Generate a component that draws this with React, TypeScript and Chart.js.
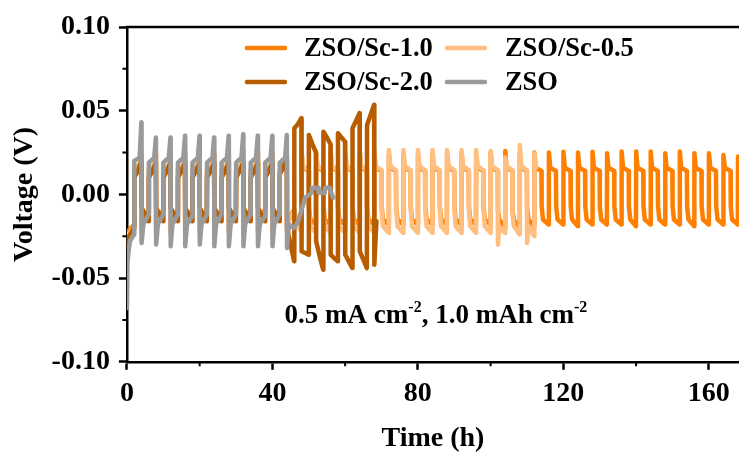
import React, { useEffect, useRef } from "react";
import { Chart, registerables } from "chart.js";

Chart.register(...registerables);

const FONT = "'Liberation Serif', 'Times New Roman', Times, serif";

// ---- axes ----
const xTicks = [0, 40, 80, 120, 160];
const xMinorTicks = [20, 60, 100, 140];
const yTicks = [-0.1, -0.05, 0, 0.05, 0.1];
const yMinorTicks = [-0.075, -0.025, 0.025, 0.075];
const xMin = 0;
const xMax = 168.3;
const yMin = -0.1;
const yMax = 0.1;
const xTitle = "Time (h)";
const yTitle = "Voltage (V)";
const halfCycle = 2; // h (0.5 mA cm-2, 1.0 mAh cm-2)

// ---- series names / colours ----
const seriesNames = ["ZSO", "ZSO/Sc-2.0", "ZSO/Sc-0.5", "ZSO/Sc-1.0"];
const seriesColors = ["#9a9a9a", "#b85c00", "#ffbf80", "#ff8000"];
const legendRows = [
  ["ZSO/Sc-1.0", "ZSO/Sc-0.5"],
  ["ZSO/Sc-2.0", "ZSO"],
];
const annotationParts = [
  { t: "0.5 mA cm", sup: false },
  { t: "-2", sup: true },
  { t: ", 1.0 mAh cm", sup: false },
  { t: "-2", sup: true },
];

// Each cycle: charge start / mid / end, discharge start / mid / end (V)

// ---- ZSO (grey) ----
const zsoStartT = [0, 0.15, 0.8, 1.97];
const zsoStartV = [-0.068, -0.04, -0.028, -0.024];
const zsoCycleT = [2, 6, 10, 14, 18, 22, 26, 30, 34, 38, 42];
const zsoChargeStart = [0.02, 0.019, 0.019, 0.019, 0.019, 0.019, 0.019, 0.019, 0.019, 0.019, 0.019];
const zsoChargeMid = 0.022;
const zsoChargeEnd = [0.043, 0.034, 0.034, 0.035, 0.035, 0.034, 0.035, 0.036, 0.035, 0.035, 0.0355];
const zsoDischargeStart = [-0.029, -0.03, -0.031, -0.031, -0.03, -0.031, -0.031, -0.031, -0.031, -0.031, -0.032];
const zsoDischargeMid = -0.018;
const zsoDischargeEnd = [-0.012, -0.012, -0.012, -0.013, -0.012, -0.012, -0.012, -0.012, -0.013, -0.012, -0.02];
const zsoMidT = [1.5, 0.5];
const zsoTailT = [47.1, 49.0, 50.8, 50.9, 52.6, 52.7, 54.4, 54.5, 55.8, 56.0, 56.7];
const zsoTailV = [-0.016, -0.002, 0.001, 0.004, 0.004, 0.001, 0.001, 0.004, 0.004, 0.002, -0.002];

// ---- ZSO/Sc-2.0 (dark orange) ----
const sc20StartT = [0, 0.3, 1.97];
const sc20StartV = [-0.035, -0.026, -0.02];
const sc20CycleT = [2, 6, 10, 14, 18, 22, 26, 30, 34, 38, 42, 46, 50, 54, 58, 62];
const sc20ChargeStart = [0.01, 0.01, 0.01, 0.01, 0.01, 0.01, 0.01, 0.01, 0.01, 0.01, 0.012, 0.0395, 0.0355, 0.0375, 0.0365, 0.0395];
const sc20ChargeMid = [0.014, 0.014, 0.014, 0.014, 0.014, 0.014, 0.014, 0.014, 0.014, 0.014, 0.016, 0.042, 0.03, 0.034, 0.034, 0.044];
const sc20ChargeEnd = [0.02, 0.019, 0.019, 0.019, 0.019, 0.019, 0.019, 0.019, 0.019, 0.019, 0.022, 0.0455, 0.025, 0.03, 0.0315, 0.0485];
const sc20DischargeStart = [-0.008, -0.008, -0.008, -0.008, -0.008, -0.008, -0.008, -0.008, -0.008, -0.008, -0.02, -0.034, -0.028, -0.036, -0.036, -0.034];
const sc20DischargeMid = [-0.012, -0.012, -0.012, -0.012, -0.012, -0.012, -0.012, -0.012, -0.012, -0.012, -0.03, -0.035, -0.037, -0.038, -0.04, -0.039];
const sc20DischargeEnd = [-0.016, -0.016, -0.016, -0.016, -0.016, -0.016, -0.016, -0.016, -0.016, -0.016, -0.04, -0.036, -0.045, -0.04, -0.044, -0.044];
const sc20MidT = [1.0, 1.0];
const sc20TailT = [66.03, 67.97, 68.03, 68.6];
const sc20TailV = [0.0415, 0.0535, -0.042, -0.016];

// ---- ZSO/Sc-0.5 (light orange) ----
const sc05StartT = [0, 0.3, 1.97];
const sc05StartV = [-0.032, -0.024, -0.02];
// early cycles (mostly hidden under ZSO)
const sc05EarlyCycleT = [2, 6, 10, 14, 18, 22, 26, 30, 34, 38, 42];
const sc05EarlyLevels = [0.015, 0.018, 0.026, -0.024, -0.016, -0.01];
const sc05EarlyMidT = [1.5, 0.5];
const sc05GapT = [46.5, 47.97];
const sc05GapV = [-0.018, -0.022];
// later cycles
const sc05CycleT = [48, 52, 56, 60, 64, 68, 72, 76, 80, 84, 88, 92, 96, 100, 104, 108];
const sc05ChargeStart = [0.026, 0.026, 0.026, 0.026, 0.026, 0.0265, 0.0265, 0.0265, 0.0265, 0.0265, 0.0265, 0.0265, 0.0265, 0.026, 0.022, 0.0295];
const sc05ChargeMid = 0.017;
const sc05ChargeEnd = 0.0145;
const sc05DischargeStart = [-0.009, -0.009, -0.009, -0.009, -0.009, -0.009, -0.009, -0.009, -0.009, -0.009, -0.009, -0.009, -0.009, -0.03, -0.012, -0.029];
const sc05DischargeMid = -0.019;
const sc05DischargeEnd = [-0.023, -0.023, -0.023, -0.023, -0.023, -0.023, -0.023, -0.023, -0.023, -0.023, -0.023, -0.023, -0.023, -0.023, -0.024, -0.025];
const sc05MidT = [0.4, 0.4];
const sc05TailT = [112.03, 112.5];
const sc05TailV = [0.0246, 0.016];

// ---- ZSO/Sc-1.0 (orange) ----
const sc10StartT = [0, 0.3, 1.97];
const sc10StartV = [-0.03, -0.022, -0.018];
const sc10EarlyCycleT = [2, 6, 10, 14, 18, 22, 26, 30, 34, 38, 42];
const sc10EarlyLevels = [0.014, 0.017, 0.024, -0.022, -0.015, -0.009];
const sc10EarlyMidT = [1.5, 0.5];
const sc10GapT = [46.5, 47.97];
const sc10GapV = [-0.016, -0.018];
const sc10CycleT = [48, 52, 56, 60, 64, 68, 72, 76, 80, 84, 88, 92, 96, 100, 104, 108, 112, 116, 120, 124, 128, 132, 136, 140, 144, 148, 152, 156, 160, 164, 168];
const sc10ChargeStart = [0.024, 0.024, 0.024, 0.024, 0.024, 0.024, 0.024, 0.024, 0.024, 0.024, 0.024, 0.024, 0.024, 0.025, 0.026, 0.025, 0.025, 0.025, 0.0255, 0.025, 0.0255, 0.0246, 0.0256, 0.0256, 0.0256, 0.0246, 0.0256, 0.0246, 0.0246, 0.0236, 0.0226];
const sc10ChargeMid = 0.016;
const sc10ChargeEnd = 0.014;
const sc10DischargeStart = [-0.007, -0.007, -0.007, -0.007, -0.007, -0.007, -0.007, -0.007, -0.007, -0.007, -0.007, -0.007, -0.007, -0.01, -0.01, -0.008, -0.007, -0.007, -0.007, -0.007, -0.007, -0.007, -0.007, -0.007, -0.007, -0.007, -0.007, -0.007, -0.007, -0.007, -0.007];
const sc10DischargeMid = -0.015;
const sc10DischargeEnd = [-0.018, -0.018, -0.018, -0.018, -0.018, -0.018, -0.018, -0.018, -0.018, -0.018, -0.018, -0.018, -0.018, -0.02, -0.022, -0.019, -0.018, -0.018, -0.019, -0.018, -0.018, -0.018, -0.019, -0.018, -0.018, -0.018, -0.019, -0.018, -0.018, -0.018, -0.018];
const sc10MidT = [0.4, 0.4];

type Pt = { x: number; y: number };
type Val = number | number[];
const pick = (v: Val, i: number) => (Array.isArray(v) ? v[i] : v);

function pointsOf(t: number[], v: number[]): Pt[] {
  return t.map((x, i) => ({ x, y: v[i] }));
}

function cyclePoints(
  cycleT: number[], cs: Val, cm: Val, ce: Val, ds: Val, dm: Val, de: Val, midT: number[]
): Pt[] {
  const pts: Pt[] = [];
  const e = 0.03;
  cycleT.forEach((t0, i) => {
    pts.push({ x: t0 + e, y: pick(cs, i) });
    pts.push({ x: t0 + midT[0], y: pick(cm, i) });
    pts.push({ x: t0 + halfCycle - e, y: pick(ce, i) });
    pts.push({ x: t0 + halfCycle + e, y: pick(ds, i) });
    pts.push({ x: t0 + halfCycle + midT[1], y: pick(dm, i) });
    pts.push({ x: t0 + 2 * halfCycle - e, y: pick(de, i) });
  });
  return pts;
}

const levelCycles = (cycleT: number[], lv: number[], midT: number[]) =>
  cyclePoints(cycleT, lv[0], lv[1], lv[2], lv[3], lv[4], lv[5], midT);

const fontOf = (size: number) => ({ family: FONT, size, weight: "bold" as const });

const decorPlugin = {
  id: "decor",
  afterDraw(chart: any) {
    const { ctx, chartArea: a, scales } = chart;
    const xs = scales.x;
    const ys = scales.y;
    ctx.save();
    ctx.strokeStyle = "#000";
    // top frame line
    ctx.lineWidth = 2.5;
    ctx.beginPath();
    ctx.moveTo(a.left - 1.25, a.top);
    ctx.lineTo(a.right + 2, a.top);
    ctx.stroke();
    // minor ticks
    ctx.lineWidth = 2;
    ctx.beginPath();
    xMinorTicks.forEach((v) => {
      const px = xs.getPixelForValue(v);
      ctx.moveTo(px, a.bottom);
      ctx.lineTo(px, a.bottom + 4.5);
    });
    yMinorTicks.forEach((v) => {
      const py = ys.getPixelForValue(v);
      ctx.moveTo(a.left, py);
      ctx.lineTo(a.left - 4.5, py);
    });
    ctx.stroke();

    // legend
    ctx.font = `bold 26.5px ${FONT}`;
    ctx.textBaseline = "middle";
    ctx.textAlign = "left";
    const rowY = [a.top + 21, a.top + 55];
    const colLine = [a.left + 120, a.left + 320];
    const colText = [a.left + 177, a.left + 378];
    legendRows.forEach((row, r) => {
      row.forEach((name, c) => {
        const idx = seriesNames.indexOf(name);
        ctx.strokeStyle = seriesColors[idx];
        ctx.lineWidth = 4.5;
        ctx.lineCap = "round";
        ctx.beginPath();
        ctx.moveTo(colLine[c], rowY[r]);
        ctx.lineTo(colLine[c] + 38, rowY[r]);
        ctx.stroke();
        ctx.fillStyle = "#000";
        ctx.fillText(name, colText[c], rowY[r] + 1);
      });
    });

    // annotation
    const mainFont = `bold 27px ${FONT}`;
    const supFont = `bold 16px ${FONT}`;
    let total = 0;
    annotationParts.forEach((p) => {
      ctx.font = p.sup ? supFont : mainFont;
      total += ctx.measureText(p.t).width;
    });
    let x = a.left + 309 - total / 2;
    const base = a.top + 296;
    ctx.textBaseline = "alphabetic";
    ctx.fillStyle = "#000";
    annotationParts.forEach((p) => {
      ctx.font = p.sup ? supFont : mainFont;
      ctx.fillText(p.t, x, p.sup ? base - 11 : base);
      x += ctx.measureText(p.t).width;
    });
    ctx.restore();
  },
};

export default function App() {
  const ref = useRef<HTMLCanvasElement>(null);
  useEffect(() => {
    const canvas = ref.current;
    if (!canvas) return;
    const profiles: Pt[][] = [
      [
        ...pointsOf(zsoStartT, zsoStartV),
        ...cyclePoints(zsoCycleT, zsoChargeStart, zsoChargeMid, zsoChargeEnd, zsoDischargeStart, zsoDischargeMid, zsoDischargeEnd, zsoMidT),
        ...pointsOf(zsoTailT, zsoTailV),
      ],
      [
        ...pointsOf(sc20StartT, sc20StartV),
        ...cyclePoints(sc20CycleT, sc20ChargeStart, sc20ChargeMid, sc20ChargeEnd, sc20DischargeStart, sc20DischargeMid, sc20DischargeEnd, sc20MidT),
        ...pointsOf(sc20TailT, sc20TailV),
      ],
      [
        ...pointsOf(sc05StartT, sc05StartV),
        ...levelCycles(sc05EarlyCycleT, sc05EarlyLevels, sc05EarlyMidT),
        ...pointsOf(sc05GapT, sc05GapV),
        ...cyclePoints(sc05CycleT, sc05ChargeStart, sc05ChargeMid, sc05ChargeEnd, sc05DischargeStart, sc05DischargeMid, sc05DischargeEnd, sc05MidT),
        ...pointsOf(sc05TailT, sc05TailV),
      ],
      [
        ...pointsOf(sc10StartT, sc10StartV),
        ...levelCycles(sc10EarlyCycleT, sc10EarlyLevels, sc10EarlyMidT),
        ...pointsOf(sc10GapT, sc10GapV),
        ...cyclePoints(sc10CycleT, sc10ChargeStart, sc10ChargeMid, sc10ChargeEnd, sc10DischargeStart, sc10DischargeMid, sc10DischargeEnd, sc10MidT),
      ],
    ];
    const datasets = profiles.map((data, i) => ({
      label: seriesNames[i],
      data,
      borderColor: seriesColors[i],
      backgroundColor: seriesColors[i],
      borderWidth: 4.5,
      pointRadius: 0,
      tension: 0,
      fill: false,
      borderJoinStyle: "round" as const,
      borderCapStyle: "round" as const,
      order: i,
    }));
    const chart = new Chart(canvas, {
      type: "line",
      data: { datasets },
      options: {
        animation: false,
        responsive: false,
        events: [],
        layout: { padding: { left: 0, right: 0, top: 27, bottom: 0 } },
        plugins: { legend: { display: false }, tooltip: { enabled: false } },
        scales: {
          x: {
            type: "linear",
            min: xMin,
            max: xMax,
            afterBuildTicks: (axis: any) => {
              axis.ticks = xTicks.map((v) => ({ value: v }));
            },
            ticks: {
              font: fontOf(28),
              color: "#000",
              padding: 7,
              maxRotation: 0,
              autoSkip: false,
              callback: (v: any) => String(v),
            },
            grid: { drawOnChartArea: false, drawTicks: true, tickLength: 8, tickWidth: 2.5, tickColor: "#000" },
            border: { display: true, color: "#000", width: 2.5 },
            title: { display: true, text: xTitle, font: fontOf(28), color: "#000", padding: { top: 5, bottom: 1 } },
          },
          y: {
            type: "linear",
            min: yMin,
            max: yMax,
            afterBuildTicks: (axis: any) => {
              axis.ticks = yTicks.map((v) => ({ value: v }));
            },
            ticks: {
              font: fontOf(28),
              color: "#000",
              padding: 9,
              autoSkip: false,
              callback: (v: any) => Number(v).toFixed(2),
            },
            grid: { drawOnChartArea: false, drawTicks: true, tickLength: 8, tickWidth: 2.5, tickColor: "#000" },
            border: { display: true, color: "#000", width: 2.5 },
            title: { display: true, text: yTitle, font: fontOf(28), color: "#000", padding: { top: 8, bottom: 1 } },
          },
        },
      },
      plugins: [decorPlugin],
    });
    return () => chart.destroy();
  }, []);
  return (
    <div style={{ position: "fixed", left: 0, top: 0, width: 739, height: 457, overflow: "hidden", background: "#fff" }}>
      <canvas ref={ref} width={739} height={457} style={{ display: "block" }} />
    </div>
  );
}
